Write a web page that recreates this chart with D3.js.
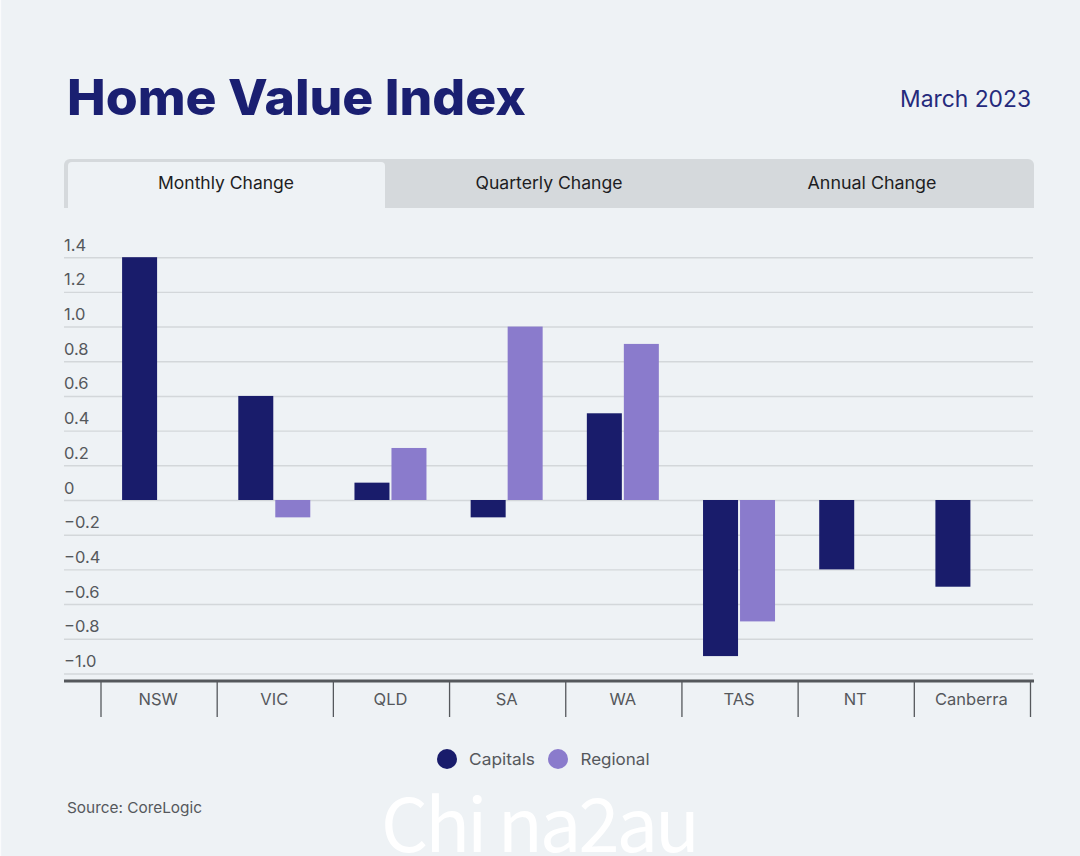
<!DOCTYPE html>
<html><head><meta charset="utf-8">
<script src="https://cdn.jsdelivr.net/npm/d3@7/dist/d3.min.js"></script>
<style>
html,body{margin:0;padding:0;background:#eef2f5}
svg{display:block}
text{font-family:Inter,"Open Sans",sans-serif}
</style></head><body>
<div id="chart"></div>
<script>
const categories=["NSW","VIC","QLD","SA","WA","TAS","NT","Canberra"];
const capitals=[1.4,0.6,0.1,-0.1,0.5,-0.9,-0.4,-0.5];
const regional=[null,-0.1,0.3,1.0,0.9,-0.7,null,null];
const yTicks=[1.4,1.2,1.0,0.8,0.6,0.4,0.2,0,-0.2,-0.4,-0.6,-0.8,-1.0];
const tabs=["Monthly Change","Quarterly Change","Annual Change"];
const seriesNames=["Capitals","Regional"];
const seriesColors=["#191c6b","#8a7bcc"];

const W=1080,H=856;
const svg=d3.select("#chart").append("svg").attr("width",W).attr("height",H);
svg.append("rect").attr("width",W).attr("height",H).attr("fill","#eef2f5");
svg.append("rect").attr("width",1.2).attr("height",H).attr("fill","#fafbfc");

// Header
svg.append("text").attr("x",67).attr("y",115).attr("font-size",49.5).attr("font-weight",800)
  .attr("fill","#1a1f71").attr("textLength",459).attr("lengthAdjust","spacingAndGlyphs").text("Home Value Index");
svg.append("text").attr("x",1031).attr("y",107).attr("text-anchor","end").attr("font-size",23)
  .attr("fill","#252a7c").attr("textLength",131).attr("lengthAdjust","spacingAndGlyphs").text("March 2023");

// Tabs
svg.append("path").attr("fill","#d5d9dc")
  .attr("d",(()=>{const p=d3.path();p.moveTo(64,208);p.lineTo(64,165);p.arcTo(64,159,70,159,6);p.lineTo(1028,159);p.arcTo(1034,159,1034,165,6);p.lineTo(1034,208);p.closePath();return p.toString();})());
svg.append("path").attr("fill","#eef2f5")
  .attr("d",(()=>{const p=d3.path();p.moveTo(68,208);p.lineTo(68,166);p.arcTo(68,162,72,162,4);p.lineTo(381,162);p.arcTo(385,162,385,166,4);p.lineTo(385,208);p.closePath();return p.toString();})());
const tabCenters=[226,549,872],tabWidths=[136,147,129];
svg.selectAll(".tab").data(tabs).join("text").attr("class","tab")
  .attr("x",(d,i)=>tabCenters[i]).attr("y",189).attr("text-anchor","middle")
  .attr("font-size",17).attr("fill","#1d1d22")
  .attr("textLength",(d,i)=>tabWidths[i]).attr("lengthAdjust","spacingAndGlyphs").text(d=>d);

// Scales
const y=d3.scaleLinear().domain([0,1.4]).range([500,257.2]);
const x0=d3.scaleBand().domain(categories).range([101,1030.5]);
const barW=35,barGap=2;
const seriesX=i=>x0.bandwidth()/2-1+(i===0?-barW-barGap/2:barGap/2);

// Gridlines and y labels
const yAxis=d3.axisLeft(y).tickValues(yTicks).tickSize(-(1033-64))
  .tickFormat(d=>d===0?"0":d3.format(".1f")(d).replace("-","\u2212"));
const gy=svg.append("g").attr("transform","translate(64,0)").call(yAxis);
gy.select(".domain").remove();
gy.selectAll(".tick line").attr("stroke","#d3d7da").attr("stroke-width",1.4);
gy.selectAll(".tick text").attr("x",0).attr("dy",-7).attr("text-anchor","start")
  .attr("font-size",16.5).attr("fill","#55585c");

// Bars
const bars=svg.append("g");
[capitals,regional].forEach((vals,s)=>{
  bars.selectAll(".s"+s).data(vals.map((v,i)=>({v,c:categories[i]})).filter(d=>d.v!==null)).join("rect")
    .attr("class","s"+s)
    .attr("x",d=>x0(d.c)+seriesX(s)).attr("width",barW)
    .attr("y",d=>Math.min(y(d.v),y(0))).attr("height",d=>Math.abs(y(d.v)-y(0)))
    .attr("fill",seriesColors[s]);
});

// Bottom axis
const xAxis=d3.axisBottom(x0).tickSize(0).tickPadding(0);
const gx=svg.append("g").attr("transform","translate(-1,681)").call(xAxis);
gx.select(".domain").remove();
gx.selectAll(".tick text").attr("y",12).attr("dy","0.71em").attr("font-size",16.5).attr("fill","#55585c");
svg.append("line").attr("x1",64).attr("x2",1034).attr("y1",681).attr("y2",681).attr("stroke","#55585c").attr("stroke-width",2.8);
const seps=categories.map(c=>x0(c)).concat(x0.range()[1]);
svg.selectAll(".sep").data(seps).join("line").attr("class","sep")
  .attr("x1",d=>d).attr("x2",d=>d).attr("y1",681).attr("y2",717)
  .attr("stroke","#55585c").attr("stroke-width",1.3);

// Legend
const legendX=[447,558],legendTextX=[469,580.5],legendW=[66,69];
const lg=svg.selectAll(".lg").data(seriesNames).join("g").attr("class","lg");
lg.append("circle").attr("cx",(d,i)=>legendX[i]).attr("cy",759).attr("r",10).attr("fill",(d,i)=>seriesColors[i]);
lg.append("text").attr("x",(d,i)=>legendTextX[i]).attr("y",765).attr("font-size",16.5).attr("fill","#55585c")
  .attr("textLength",(d,i)=>legendW[i]).attr("lengthAdjust","spacingAndGlyphs").text(d=>d);

// Source
svg.append("text").attr("x",67).attr("y",813).attr("font-size",15).attr("fill","#55585c")
  .attr("textLength",135).attr("lengthAdjust","spacingAndGlyphs").text("Source: CoreLogic");

// Watermark
svg.append("text").attr("x",381).attr("y",852).attr("font-size",74).attr("fill","#ffffff")
  .style("font-family","'Noto Sans CJK SC'").style("font-weight",400)
  .attr("textLength",319).attr("lengthAdjust","spacing").text("Chi na2au");
</script>
</body></html>
